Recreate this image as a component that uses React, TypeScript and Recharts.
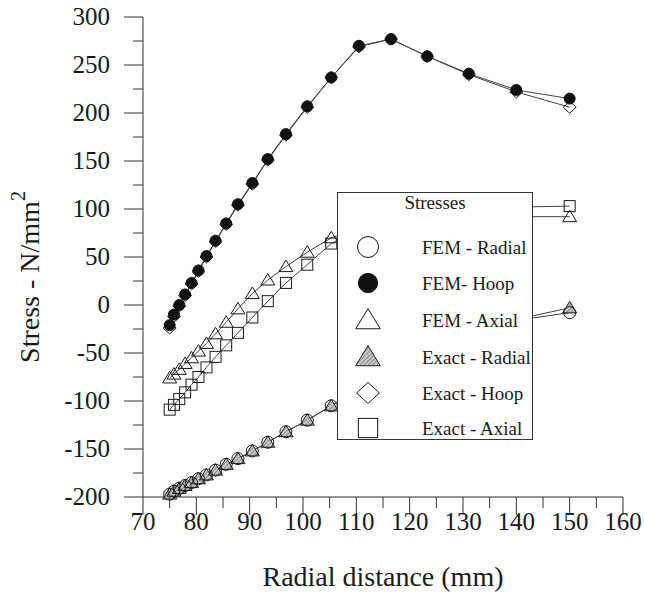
import { LineChart, Line, XAxis, YAxis, Legend } from "recharts";

// radial positions of the nodes (mm)
const radius = [75, 75.8, 76.8, 77.9, 79.1, 80.4, 81.9, 83.6, 85.6, 87.8, 90.5, 93.4, 96.8, 100.8, 105.3, 110.5, 116.5, 123.3, 131.1, 140, 150];

// stresses (N/mm^2)
const femRadial = [-197, -194, -191, -188, -185, -181, -177, -172, -166, -160, -152, -143, -132, -120, -105, -88, -70, -52, -34, -16, -8];
const exactRadial = [-197, -194, -191, -188, -185, -181, -177, -172, -166, -160, -152, -143, -132, -120, -105, -88, -70, -52, -34, -15, -3];
const femHoop = [-21, -10, 0, 11, 23, 36, 51, 67, 85, 105, 127, 152, 178, 207, 237, 270, 277, 259, 241, 224, 215];
const exactHoop = [-24, -12, -1, 10, 22, 35, 50, 66, 84, 104, 126, 151, 177, 206, 237, 269, 277, 259, 240, 222, 206];
const femAxial = [-76, -72, -67, -61, -55, -48, -40, -30, -18, -4, 12, 26, 40, 55, 70, 80, 86, 89, 91, 92, 92];
const exactAxial = [-109, -104, -98, -91, -83, -75, -65, -54, -42, -29, -13, 4, 23, 42, 64, 80, 90, 96, 100, 102, 103];

const xTicks = [70, 75, 80, 85, 90, 95, 100, 105, 110, 115, 120, 125, 130, 135, 140, 145, 150, 155, 160];
const yTicks = [-200, -175, -150, -125, -100, -75, -50, -25, 0, 25, 50, 75, 100, 125, 150, 175, 200, 225, 250, 275, 300];

const legendTitle = "Stresses";
const legendItems = [
  { label: "FEM - Radial", kind: "circle" },
  { label: "FEM- Hoop", kind: "disc" },
  { label: "FEM - Axial", kind: "triangle" },
  { label: "Exact - Radial", kind: "hatchTriangle" },
  { label: "Exact - Hoop", kind: "diamond" },
  { label: "Exact - Axial", kind: "square" },
];

const data = radius.map((r, i) => ({
  r,
  femRadial: femRadial[i],
  exactRadial: exactRadial[i],
  femHoop: femHoop[i],
  exactHoop: exactHoop[i],
  femAxial: femAxial[i],
  exactAxial: exactAxial[i],
}));

const FONT = "Liberation Serif, DejaVu Serif, serif";
const INK = "#1a1a1a";

function Shape({ kind, x, y, s = 1 }: { kind: string; x: number; y: number; s?: number }) {
  const st = { stroke: INK, strokeWidth: 1 };
  switch (kind) {
    case "circle":
      return <circle cx={x} cy={y} r={6 * s} fill="none" {...st} />;
    case "disc":
      return <circle cx={x} cy={y} r={5.5 * s} fill="#111" stroke="#111" />;
    case "triangle":
      return <polygon points={`${x},${y - 6.5 * s} ${x + 7 * s},${y + 5 * s} ${x - 7 * s},${y + 5 * s}`} fill="none" {...st} />;
    case "hatchTriangle":
      return <polygon points={`${x},${y - 6.5 * s} ${x + 7 * s},${y + 5 * s} ${x - 7 * s},${y + 5 * s}`} fill="url(#hatchFill)" {...st} />;
    case "diamond":
      return <polygon points={`${x},${y - 6 * s} ${x + 6.5 * s},${y} ${x},${y + 6 * s} ${x - 6.5 * s},${y}`} fill="none" {...st} />;
    default:
      return <rect x={x - 5.5 * s} y={y - 5.5 * s} width={11 * s} height={11 * s} fill="none" {...st} />;
  }
}

const dotFor = (kind: string) => (p: any) => (
  <Shape key={`${kind}-${p.index}`} kind={kind} x={p.cx} y={p.cy} />
);

function XTick({ x, y, payload }: any) {
  const major = payload.value % 10 === 0;
  return (
    <g>
      <line x1={x} y1={y} x2={x} y2={y + (major ? 18 : 11)} stroke="#333" />
      {major && (
        <text x={x} y={y + 33} textAnchor="middle" fontSize={25} style={{ fontFamily: FONT }} fill={INK}>
          {payload.value}
        </text>
      )}
    </g>
  );
}

function YTick({ x, y, payload }: any) {
  const major = payload.value % 50 === 0;
  return (
    <g>
      <line x1={x} y1={y} x2={x - (major ? 19 : 10)} y2={y} stroke="#333" />
      {major && (
        <text x={x - 33} y={y + 8} textAnchor="end" fontSize={25} style={{ fontFamily: FONT }} fill={INK}>
          {payload.value}
        </text>
      )}
    </g>
  );
}

function YTitle() {
  return (
    <text transform="translate(39, 277) rotate(-90)" textAnchor="middle" fontSize={28} style={{ fontFamily: FONT }} fill={INK}>
      Stress - N/mm<tspan dy={-14} fontSize={20}>2</tspan>
    </text>
  );
}

function XTitle() {
  return (
    <text x={383} y={586} textAnchor="middle" fontSize={28} style={{ fontFamily: FONT }} fill={INK}>
      Radial distance (mm)
    </text>
  );
}

function StressLegend() {
  const rowY = [55, 91, 128, 165, 201, 236];
  return (
    <svg width={196} height={248} style={{ display: "block", background: "#fff" }}>
      <rect x={0.5} y={0.5} width={195} height={247} fill="#fff" stroke="#333" />
      <text x={98} y={17} textAnchor="middle" fontSize={19} style={{ fontFamily: FONT }} fill={INK}>
        {legendTitle}
      </text>
      {legendItems.map((it, i) => (
        <g key={it.label}>
          <Shape kind={it.kind} x={31} y={rowY[i]} s={1.75} />
          <text x={85} y={rowY[i] + 7} fontSize={19} style={{ fontFamily: FONT }} fill={INK}>
            {it.label}
          </text>
        </g>
      ))}
      <rect x={0.5} y={0.5} width={195} height={247} fill="none" stroke="#333" />
    </svg>
  );
}

export default function App() {
  return (
    <div style={{ position: "absolute", left: 0, top: 0, width: 645, height: 597, background: "#fff" }}>
      <svg width="0" height="0" style={{ position: "absolute" }}>
        <defs>
          <pattern id="hatchFill" width="3" height="3" patternUnits="userSpaceOnUse" patternTransform="rotate(45)">
            <rect width="3" height="3" fill="#c8c8c8" />
            <line x1="0" y1="0" x2="0" y2="3" stroke="#555" strokeWidth="1" />
          </pattern>
        </defs>
      </svg>
      <LineChart width={645} height={597} data={data} margin={{ top: 17, right: 22, bottom: 0, left: 0 }}>
        <XAxis
          dataKey="r"
          type="number"
          domain={[70, 160]}
          ticks={xTicks}
          interval={0}
          height={100}
          tickSize={0}
          tickMargin={0}
          tickLine={false}
          axisLine={{ stroke: "#333" }}
          tick={<XTick />}
          label={{ content: XTitle }}
        />
        <YAxis
          type="number"
          domain={[-200, 300]}
          ticks={yTicks}
          interval={0}
          width={143}
          tickSize={0}
          tickMargin={0}
          tickLine={false}
          axisLine={{ stroke: "#333" }}
          tick={<YTick />}
          label={{ content: YTitle }}
        />
        <Line dataKey="exactRadial" stroke="#444" strokeWidth={1} dot={dotFor("hatchTriangle")} isAnimationActive={false} />
        <Line dataKey="femRadial" stroke="#444" strokeWidth={1} dot={dotFor("circle")} isAnimationActive={false} />
        <Line dataKey="exactHoop" stroke="#444" strokeWidth={1} dot={dotFor("diamond")} isAnimationActive={false} />
        <Line dataKey="femHoop" stroke="#444" strokeWidth={1} dot={dotFor("disc")} isAnimationActive={false} />
        <Line dataKey="exactAxial" stroke="#444" strokeWidth={1} dot={dotFor("square")} isAnimationActive={false} />
        <Line dataKey="femAxial" stroke="#444" strokeWidth={1} dot={dotFor("triangle")} isAnimationActive={false} />
        <Legend
          layout="vertical"
          align="center"
          verticalAlign="middle"
          wrapperStyle={{ left: 337, top: 192, width: 196, height: 248 }}
          content={() => <StressLegend />}
        />
      </LineChart>
    </div>
  );
}
